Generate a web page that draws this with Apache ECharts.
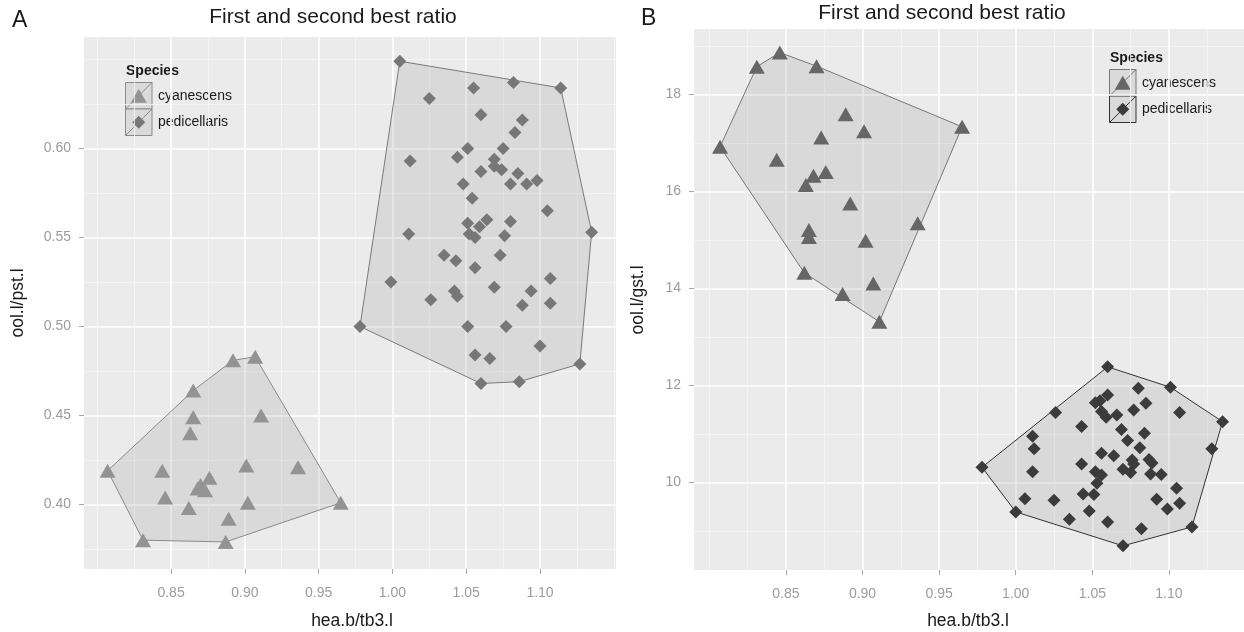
<!DOCTYPE html>
<html>
<head>
<meta charset="utf-8">
<script src="https://cdn.jsdelivr.net/npm/echarts@6/dist/echarts.min.js"></script>
<style>
  html, body { margin: 0; padding: 0; background: #fff; }
  #main { width: 1244px; height: 632px; }
</style>
</head>
<body>
<div id="main"></div>
<script>
// cyanescens: same specimens in both panels, so x is shared
var cyanX = [0.807, 0.831, 0.846, 0.870, 0.965, 0.889, 0.901, 0.873, 0.844, 0.876, 0.868,
             0.863, 0.892, 0.936, 0.865, 0.865, 0.902, 0.862, 0.907, 0.887, 0.911];
var cyanA = [0.419, 0.380, 0.404, 0.411, 0.401, 0.392, 0.422, 0.408, 0.419, 0.415, 0.409,
             0.440, 0.481, 0.421, 0.464, 0.449, 0.401, 0.398, 0.483, 0.379, 0.450];
var cyanB = [16.92, 18.57, 18.86, 18.58, 17.33, 17.59, 17.24, 17.11, 16.65, 16.40, 16.32,
             16.13, 15.75, 15.34, 15.20, 15.06, 14.98, 14.32, 14.10, 13.88, 13.31];

// pedicellaris, panel A (ool.l/pst.l)
var pedAX = [1.005, 1.055, 1.082, 1.114, 1.025, 1.060, 1.088, 1.083, 1.051, 1.075,
             1.044, 1.012, 1.069, 1.069, 1.074, 1.060, 1.085, 1.048, 1.080, 1.091,
             1.098, 1.054, 1.105, 1.135, 1.051, 1.064, 1.059, 1.080, 1.052, 1.056,
             1.076, 1.011, 1.035, 1.043, 1.073, 1.056, 0.999, 1.042, 1.044, 1.069,
             1.107, 1.094, 1.026, 1.088, 1.107, 0.978, 1.051, 1.077, 1.100, 1.056,
             1.066, 1.127, 1.060, 1.086];
var pedAY = [0.649, 0.634, 0.637, 0.634, 0.628, 0.619, 0.616, 0.609, 0.600, 0.600,
             0.595, 0.593, 0.594, 0.590, 0.588, 0.587, 0.586, 0.580, 0.580, 0.580,
             0.582, 0.572, 0.565, 0.553, 0.558, 0.560, 0.556, 0.559, 0.552, 0.550,
             0.551, 0.552, 0.540, 0.537, 0.540, 0.533, 0.525, 0.520, 0.517, 0.522,
             0.527, 0.520, 0.515, 0.512, 0.513, 0.500, 0.500, 0.500, 0.489, 0.484,
             0.482, 0.479, 0.468, 0.469];

// pedicellaris, panel B (ool.l/gst.l)
var pedBX = [1.060, 1.101, 1.135, 1.080, 1.060, 1.052, 1.055, 1.085, 1.026, 1.056,
             1.059, 1.066, 1.077, 1.107, 1.043, 1.069, 1.084, 1.011, 1.073, 1.012,
             1.081, 1.128, 1.056, 1.064, 0.978, 1.043, 1.076, 1.087, 1.077, 1.070,
             1.075, 1.089, 1.011, 1.052, 1.056, 1.088, 1.095, 1.053, 1.105, 1.006,
             1.025, 1.044, 1.051, 1.092, 1.107, 1.099, 1.000, 1.048, 1.035, 1.060,
             1.082, 1.115, 1.070];
var pedBY = [12.38, 11.96, 11.25, 11.94, 11.80, 11.64, 11.68, 11.63, 11.44, 11.46,
             11.34, 11.39, 11.49, 11.44, 11.15, 11.09, 11.01, 10.95, 10.86, 10.69,
             10.71, 10.69, 10.60, 10.55, 10.31, 10.38, 10.46, 10.47, 10.38, 10.27,
             10.20, 10.40, 10.22, 10.22, 10.15, 10.17, 10.16, 9.98, 9.88, 9.66,
             9.63, 9.76, 9.75, 9.65, 9.57, 9.45, 9.39, 9.41, 9.24, 9.18,
             9.04, 9.08, 8.69];

// tick labels and minor grid breaks
var xTicks = [0.85, 0.90, 0.95, 1.00, 1.05, 1.10];
var xMinor = [0.80, 0.825, 0.875, 0.925, 0.975, 1.025, 1.075, 1.125, 1.15];
var yTicksA = [0.40, 0.45, 0.50, 0.55, 0.60];
var yMinorA = [0.375, 0.425, 0.475, 0.525, 0.575, 0.625, 0.65];
var yTicksB = [10, 12, 14, 16, 18];
var yMinorB = [9, 11, 13, 15, 17, 19];

var chart = echarts.init(document.getElementById('main'));
var FONT = 'Liberation Sans, Arial, sans-serif';

function pairs(xs, ys) {
  return xs.map(function (x, i) { return [x, ys[i]]; });
}

// convex hull (monotone chain), like chull() in the original
function convexHull(pts) {
  var p = pts.slice().sort(function (a, b) { return a[0] - b[0] || a[1] - b[1]; });
  function cross(o, a, b) {
    return (a[0] - o[0]) * (b[1] - o[1]) - (a[1] - o[1]) * (b[0] - o[0]);
  }
  var lower = [], upper = [];
  p.forEach(function (pt) {
    while (lower.length >= 2 && cross(lower[lower.length - 2], lower[lower.length - 1], pt) <= 0) lower.pop();
    lower.push(pt);
  });
  for (var i = p.length - 1; i >= 0; i--) {
    while (upper.length >= 2 && cross(upper[upper.length - 2], upper[upper.length - 1], p[i]) <= 0) upper.pop();
    upper.push(p[i]);
  }
  lower.pop(); upper.pop();
  return lower.concat(upper);
}

function axisPair(dim, grid, min, max, major, minor, fmt, labelMargin) {
  var pos = dim === 'x' ? 'bottom' : 'left';
  return [{
    type: 'value', gridIndex: grid, min: min, max: max, position: pos,
    axisLine: { show: false },
    axisTick: { show: false, customValues: minor },
    axisLabel: { show: false },
    splitLine: { show: true, lineStyle: { color: '#f6f6f6', width: 0.8 } }
  }, {
    type: 'value', gridIndex: grid, min: min, max: max, position: pos,
    axisLine: { show: false },
    axisTick: { show: true, customValues: major, length: 5, lineStyle: { color: '#a6a6a6', width: 1 } },
    axisLabel: {
      customValues: major, color: '#9c9c9c', fontSize: 14, fontFamily: FONT,
      margin: labelMargin, formatter: fmt
    },
    splitLine: { show: true, lineStyle: { color: '#ffffff', width: 1.6 } }
  }];
}

function two(v) { return v.toFixed(2); }
function whole(v) { return String(Math.round(v)); }

function hullSeries(xi, yi, pts, fill, stroke) {
  var hull = convexHull(pts);
  return {
    type: 'custom', xAxisIndex: xi, yAxisIndex: yi, z: 1, silent: true, clip: false,
    data: hull,
    renderItem: function (params, api) {
      if (params.dataIndex !== 0) return null;
      return {
        type: 'polygon',
        shape: { points: hull.map(function (p) { return api.coord(p); }) },
        style: { fill: fill, stroke: stroke, lineWidth: 1 }
      };
    }
  };
}

function scatterSeries(name, xi, yi, pts, symbol, size, color) {
  return {
    name: name, type: 'scatter', xAxisIndex: xi, yAxisIndex: yi, z: 2, silent: true,
    symbol: symbol, symbolSize: size, data: pts,
    itemStyle: { color: color, opacity: 1 }
  };
}

function text(x, y, str, opt) {
  opt = opt || {};
  return {
    type: 'text', x: x, y: y, rotation: opt.rotation || 0, silent: true,
    style: {
      text: str, fill: opt.color || '#1a1a1a', fontSize: opt.size || 14,
      fontWeight: opt.bold ? 'bold' : 'normal', fontFamily: FONT,
      align: opt.align || 'left', verticalAlign: 'middle'
    }
  };
}

// boxed legend key: polygon fill + diagonal + point symbol
function legendKey(x, y, size, shape, symColor, lineColor) {
  var cx = x + size / 2, cy = y + size / 2;
  var sym = shape === 'triangle'
    ? [[cx - 8, cy + 7], [cx + 8, cy + 7], [cx, cy - 7]]
    : [[cx, cy - 6.5], [cx + 6.5, cy], [cx, cy + 6.5], [cx - 6.5, cy]];
  return [
    { type: 'rect', silent: true, shape: { x: x, y: y, width: size, height: size },
      style: { fill: '#dadada', stroke: lineColor, lineWidth: 1 } },
    { type: 'line', silent: true, shape: { x1: x, y1: y + size, x2: x + size, y2: y },
      style: { stroke: lineColor, lineWidth: 1 } },
    { type: 'polygon', silent: true, shape: { points: sym }, style: { fill: symColor } }
  ];
}

function legend(x, y, colors) {
  var els = [text(x, y, 'Species', { bold: true })];
  var kx = x - 0.5, ky = y + 11.5, ks = 26.5;
  els = els.concat(legendKey(kx, ky, ks, 'triangle', colors[0], colors[1]));
  els = els.concat(legendKey(kx, ky + ks, ks, 'diamond', colors[2], colors[3]));
  els.push(text(kx + ks + 6, ky + ks / 2, 'cyanescens'));
  els.push(text(kx + ks + 6, ky + ks * 1.5, 'pedicellaris'));
  return els;
}

var xA = axisPair('x', 0, 0.791, 1.1515, xTicks, xMinor, two, 17);
var yA = axisPair('y', 0, 0.3638, 0.6626, yTicksA, yMinorA, two, 13);
var xB = axisPair('x', 1, 0.790, 1.149, xTicks, xMinor, two, 17);
var yB = axisPair('y', 1, 8.192, 19.346, yTicksB, yMinorB, whole, 13);

var graphics = [
  text(12, 21, 'A', { size: 23 }),
  text(641, 19, 'B', { size: 23 }),
  text(333, 17, 'First and second best ratio', { size: 21, align: 'center' }),
  text(942, 13, 'First and second best ratio', { size: 21, align: 'center' }),
  text(352, 621, 'hea.b/tb3.l', { size: 17.5, align: 'center' }),
  text(968, 621, 'hea.b/tb3.l', { size: 17.5, align: 'center' }),
  text(18, 303, 'ool.l/pst.l', { size: 17.5, align: 'center', rotation: Math.PI / 2 }),
  text(638, 300, 'ool.l/gst.l', { size: 17.5, align: 'center', rotation: Math.PI / 2 })
].concat(
  legend(126, 71, ['#939393', '#8a8a8a', '#777777', '#8a8a8a']),
  legend(1110, 58, ['#666666', '#777777', '#3b3b3b', '#333333'])
);

var option = {
  backgroundColor: '#ffffff',
  animation: false,
  grid: [
    { left: 84, top: 37, width: 532, height: 532, show: true, backgroundColor: '#ebebeb', borderWidth: 0 },
    { left: 694, top: 29, width: 550, height: 541, show: true, backgroundColor: '#ebebeb', borderWidth: 0 }
  ],
  xAxis: xA.concat(xB),
  yAxis: yA.concat(yB),
  series: [
    hullSeries(1, 1, pairs(cyanX, cyanA), 'rgba(128,128,128,0.17)', '#8a8a8a'),
    hullSeries(1, 1, pairs(pedAX, pedAY), 'rgba(128,128,128,0.17)', '#7a7a7a'),
    scatterSeries('cyanescens', 1, 1, pairs(cyanX, cyanA), 'triangle', [16, 14], '#939393'),
    scatterSeries('pedicellaris', 1, 1, pairs(pedAX, pedAY), 'diamond', [13, 13], '#777777'),
    hullSeries(3, 3, pairs(cyanX, cyanB), 'rgba(128,128,128,0.17)', '#777777'),
    hullSeries(3, 3, pairs(pedBX, pedBY), 'rgba(128,128,128,0.17)', '#333333'),
    scatterSeries('cyanescens', 3, 3, pairs(cyanX, cyanB), 'triangle', [16, 14], '#666666'),
    scatterSeries('pedicellaris', 3, 3, pairs(pedBX, pedBY), 'diamond', [13, 13], '#3b3b3b')
  ],
  graphic: graphics
};

chart.setOption(option);
</script>
</body>
</html>
